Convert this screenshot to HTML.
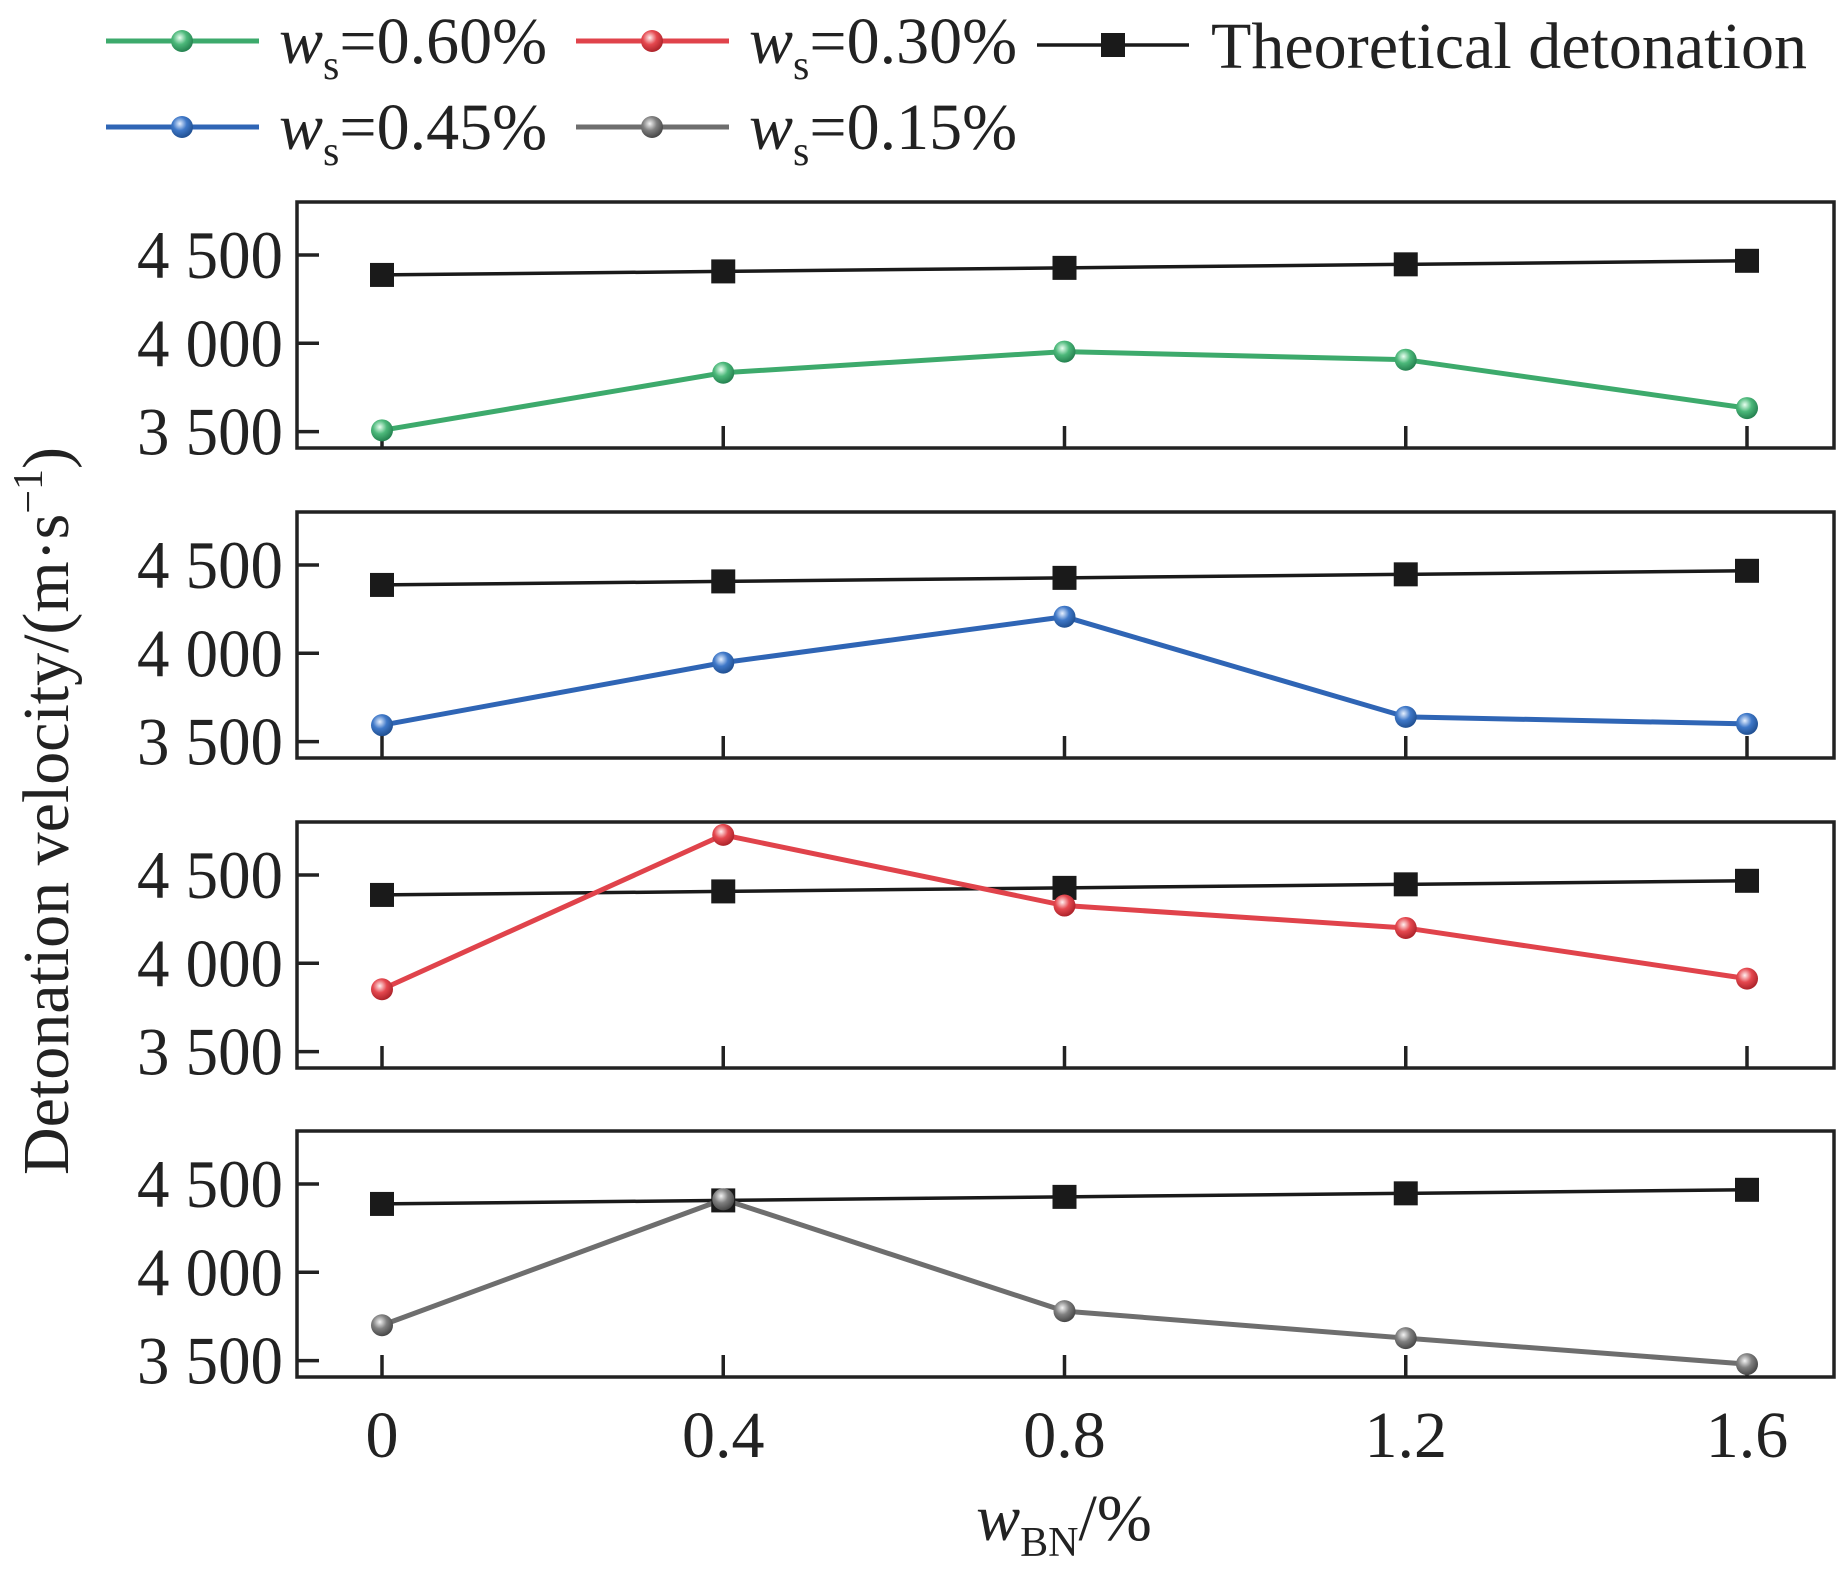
<!DOCTYPE html>
<html><head><meta charset="utf-8"><style>
html,body{margin:0;padding:0;background:#fff;}
svg{display:block;font-family:"Liberation Serif",serif;}
</style></head><body>
<svg id="chart" width="1843" height="1570" viewBox="0 0 1843 1570" xmlns="http://www.w3.org/2000/svg">
<defs>
<radialGradient id="gGreen" cx="0.4" cy="0.35" r="0.7"><stop offset="0" stop-color="#e8fff0"/><stop offset="0.45" stop-color="#4cb87a"/><stop offset="1" stop-color="#1f7a4a"/></radialGradient>
<radialGradient id="gBlue" cx="0.4" cy="0.35" r="0.7"><stop offset="0" stop-color="#e6f0ff"/><stop offset="0.45" stop-color="#3f78c8"/><stop offset="1" stop-color="#1c4a8a"/></radialGradient>
<radialGradient id="gRed" cx="0.4" cy="0.35" r="0.7"><stop offset="0" stop-color="#fff0f0"/><stop offset="0.45" stop-color="#e5484f"/><stop offset="1" stop-color="#a51e25"/></radialGradient>
<radialGradient id="gGray" cx="0.4" cy="0.35" r="0.7"><stop offset="0" stop-color="#f4f4f4"/><stop offset="0.45" stop-color="#808080"/><stop offset="1" stop-color="#3f3f3f"/></radialGradient>
</defs>
<g id="legend"></g>
<g id="panels"></g>
<text transform="translate(68,811) rotate(-90)" text-anchor="middle" font-size="66" fill="#222" textLength="728" lengthAdjust="spacingAndGlyphs">Detonation velocity/(m·s<tspan font-size="42" dy="-26">−1</tspan><tspan dy="26">)</tspan></text>
<text x="1064" y="1540" text-anchor="middle" font-size="66" fill="#222"><tspan font-style="italic">w</tspan><tspan font-size="42" dy="16">BN</tspan><tspan dy="-16">/%</tspan></text>
</svg>
<script>
const xCats = [0, 0.4, 0.8, 1.2, 1.6];
const xTickLabels = ["0", "0.4", "0.8", "1.2", "1.6"];
const yTicks = [3500, 4000, 4500];
const yTickLabels = ["3 500", "4 000", "4 500"];
const theoretical = [4387, 4407, 4427, 4447, 4467];
const ws060 = [3507, 3833, 3953, 3907, 3633];
const ws045 = [3593, 3947, 4207, 3640, 3600];
const ws030 = [3853, 4727, 4327, 4200, 3913];
const ws015 = [3700, 4413, 3780, 3627, 3480];

const NS = "http://www.w3.org/2000/svg";
const svg = document.getElementById('chart');
const panelsG = document.getElementById('panels');
const legendG = document.getElementById('legend');
function mk(tag, attrs, parent){const e=document.createElementNS(NS,tag);for(const k in attrs)e.setAttribute(k,attrs[k]);parent.appendChild(e);return e;}

const L=297, R=1834, H=246;
const tops=[202,512,822,1131];
const yMin=3407, yMax=4800;
function xs(v){return 382 + (v-0)/(1.6-0)*(1747-382);}
function ys(v,top){return top + H - (v-yMin)/(yMax-yMin)*H;}

const series=[
 {vals:ws060,color:"#3daa6c",grad:"url(#gGreen)",name:"ws-0.60"},
 {vals:ws045,color:"#2f65b5",grad:"url(#gBlue)",name:"ws-0.45"},
 {vals:ws030,color:"#e0434b",grad:"url(#gRed)",name:"ws-0.30"},
 {vals:ws015,color:"#6e6e6e",grad:"url(#gGray)",name:"ws-0.15"}
];

series.forEach((s,pi)=>{
  const top=tops[pi];
  const g=mk('g',{},panelsG);
  
  
  const fr=mk('rect',{x:L,y:top,width:R-L,height:H,fill:'none',stroke:'#222','stroke-width':3.5},g);
  
  
  yTicks.forEach((t,i)=>{
    const y=ys(t,top);
    const tk=mk('line',{x1:L,x2:L+22,y1:y,y2:y,stroke:'#222','stroke-width':3.5},g);
    
    
    const tl=mk('text',{x:L-146-14,y:y+23,'font-size':68,fill:'#222',textLength:146,lengthAdjust:'spacingAndGlyphs'},g);
    tl.textContent=yTickLabels[i];
    
    
  });
  xCats.forEach(c=>{
    const x=xs(c);
    const tk=mk('line',{x1:x,x2:x,y1:top+H,y2:top+H-22,stroke:'#222','stroke-width':3.5},g);
    
    
  });
  const tp=mk('polyline',{points:theoretical.map((v,i)=>xs(xCats[i])+','+ys(v,top)).join(' '),fill:'none',stroke:'#1a1a1a','stroke-width':3.5},g);
  
  
  const sp=mk('polyline',{points:s.vals.map((v,i)=>xs(xCats[i])+','+ys(v,top)).join(' '),fill:'none',stroke:s.color,'stroke-width':5},g);
  
  
  theoretical.forEach((v,i)=>{
    const sq=mk('rect',{x:xs(xCats[i])-12,y:ys(v,top)-12,width:24,height:24,fill:'#1a1a1a'},g);
    
    
  });
  s.vals.forEach((v,i)=>{
    const c=mk('circle',{cx:xs(xCats[i]),cy:ys(v,top),r:11,fill:s.grad},g);
    
    
  });
});
xCats.forEach((c,i)=>{
  const t=mk('text',{x:xs(c),y:1457,'text-anchor':'middle','font-size':66,fill:'#222'},svg);
  t.textContent=xTickLabels[i];
  
  
});
const legItems=[
 {x1:106,x2:259,mx:182,tx:279,y:41,color:"#3daa6c",grad:"url(#gGreen)",label:"0.60%"},
 {x1:576,x2:729,mx:652,tx:749,y:41,color:"#e0434b",grad:"url(#gRed)",label:"0.30%"},
 {x1:106,x2:259,mx:182,tx:279,y:127,color:"#2f65b5",grad:"url(#gBlue)",label:"0.45%"},
 {x1:576,x2:729,mx:652,tx:749,y:127,color:"#6e6e6e",grad:"url(#gGray)",label:"0.15%"}
];
legItems.forEach(it=>{
  const g=mk('g',{},legendG);
  
  
  mk('line',{x1:it.x1,x2:it.x2,y1:it.y,y2:it.y,stroke:it.color,'stroke-width':5},g);
  mk('circle',{cx:it.mx,cy:it.y,r:11,fill:it.grad},g);
  const t=mk('text',{x:it.tx,y:it.y+22,'font-size':66,fill:'#222'},g);
  t.innerHTML='<tspan font-style="italic">w</tspan><tspan font-size="42" dy="16">s</tspan><tspan dy="-16">='+it.label+'</tspan>';
});
{
  const g=mk('g',{},legendG);
  
  
  mk('line',{x1:1037,x2:1189,y1:45,y2:45,stroke:'#1a1a1a','stroke-width':3.5},g);
  mk('rect',{x:1101,y:33,width:24,height:24,fill:'#1a1a1a'},g);
  const t=mk('text',{x:1211,y:68,'font-size':66,fill:'#222',textLength:596,lengthAdjust:'spacingAndGlyphs'},g);
  t.textContent='Theoretical detonation';
}
</script>
</body></html>
